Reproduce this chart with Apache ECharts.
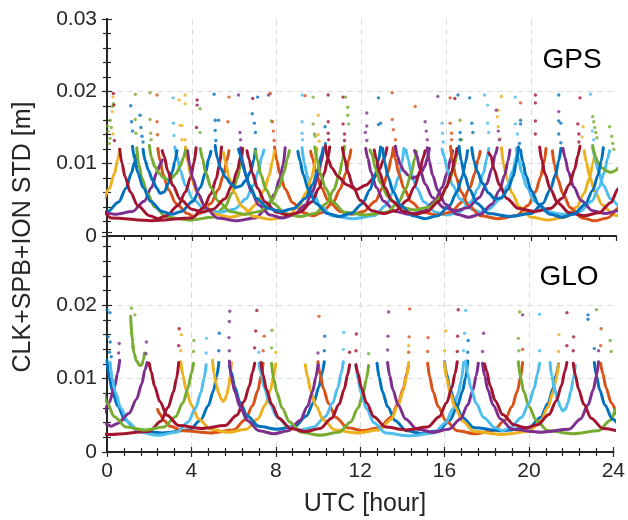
<!DOCTYPE html>
<html><head><meta charset="utf-8">
<script src="https://cdn.jsdelivr.net/npm/echarts@6/dist/echarts.min.js"></script>
<style>html,body{margin:0;padding:0;background:#fff}#c{width:628px;height:520px}</style>
</head><body><div id="c"></div>
<script>
// MATLAB default colour order: 0 blue,1 orange,2 yellow,3 purple,4 green,5 light blue,6 dark red
const COLORS = ['#0072BD','#D95319','#EDB120','#7E2F8E','#77AC30','#4DBEEE','#A2142F'];
const panelNames = ['GPS','GLO'];
const xTitle = 'UTC [hour]';
const yTitle = 'CLK+SPB+ION STD [m]';

// ---- GPS satellite arcs: [hour, STD m] ----
const gpsYellow = [
 [[-3.5,.012],[-3.4,.0105],[-3.25,.0086],[-3,.0065],[-2.65,.0046],[-2.1,.0032],[-1.45,.0028],[-0.8,.0032],[-0.25,.0046],[0.1,.0065],[0.35,.0086],[0.5,.0105],[0.6,.012]],
 [[3.7,.0123],[3.8,.0103],[3.95,.0084],[4.2,.0063],[4.55,.0044],[5.1,.003],[5.8,.0026],[6.5,.003],[7.05,.0044],[7.4,.0063],[7.65,.0084],[7.8,.0103],[7.9,.0118]],
 [[5.5,.0115],[5.6,.01],[5.75,.0081],[6,.006],[6.35,.0041],[6.9,.0027],[7.7,.0023],[8.5,.0027],[9.05,.0041],[9.4,.006],[9.65,.0081],[9.8,.01],[9.9,.0121]],
 [[18.6,.0122],[18.7,.0099],[18.85,.008],[19.1,.0059],[19.45,.004],[20,.0026],[20.8,.0022],[21.6,.0026],[22.15,.004],[22.5,.0059],[22.75,.008],[22.9,.0099],[23,.0115]],
 [[22.5,.0118],[22.6,.0102],[22.75,.0083],[23,.0062],[23.35,.0043],[23.9,.0029],[24.5,.0025],[25.1,.0029],[25.65,.0043],[26,.0062],[26.25,.0083],[26.4,.0102],[26.5,.012]]
];
const gpsRed = [
 [[0.6,.012],[0.7,.0101],[0.85,.0082],[1.1,.0061],[1.45,.0042],[2,.0028],[2.4,.0024],[2.8,.0028],[3.35,.0042],[3.7,.0061],[3.95,.0082],[4.1,.0101],[4.2,.0122]],
 [[-1.2,.012],[-1.1,.0098],[-0.95,.0079],[-0.7,.0058],[-0.35,.0039],[0.2,.0025],[2.1,.0021],[4,.0025],[4.55,.0039],[4.9,.0058],[5.15,.0079],[5.3,.0098],[5.4,.0123]],
 [[2.6,.0118],[2.7,.011],[2.85,.0091],[3.1,.007],[3.45,.0051],[4,.0037],[4.5,.0033],[5,.0037],[5.55,.0051],[5.9,.007],[6.15,.0091],[6.3,.011],[6.4,.0121]],
 [[6.6,.0118],[6.7,.0106],[6.85,.0087],[7.1,.0066],[7.45,.0047],[8,.0033],[8.55,.0029],[9.1,.0033],[9.65,.0047],[10,.0066],[10.25,.0087],[10.4,.0106],[10.5,.0123]],
 [[10.3,.0125],[10.4,.0108],[10.6,.0094],[10.9,.0082],[11.3,.0071],[11.75,.0064],[12.2,.007],[12.55,.0079],[12.85,.0092],[13.05,.0106],[13.2,.0122]],
 [[11.1,.0122],[11.2,.0108],[11.35,.0089],[11.6,.0068],[11.95,.0049],[12.5,.0035],[13.05,.0031],[13.6,.0035],[14.15,.0049],[14.5,.0068],[14.75,.0089],[14.9,.0108],[15,.0118]],
 [[12.6,.0119],[12.7,.0107],[12.85,.0088],[13.1,.0067],[13.45,.0048],[14,.0034],[14.55,.003],[15.1,.0034],[15.65,.0048],[16,.0067],[16.25,.0088],[16.4,.0107],[16.5,.0121]],
 [[18,.0115],[18.1,.0111],[18.25,.0092],[18.5,.0071],[18.85,.0052],[19.4,.0038],[20.15,.0034],[20.9,.0038],[21.45,.0052],[21.8,.0071],[22.05,.0092],[22.2,.0111],[22.3,.0124]],
 [[20.4,.0123],[20.5,.0105],[20.65,.0086],[20.9,.0065],[21.25,.0046],[21.8,.0032],[22.5,.0028],[23.2,.0032],[23.75,.0046],[24.1,.0065],[24.35,.0086],[24.5,.0105],[24.6,.012]]
];
const gpsBlue = [
 [[-2.5,.012],[-2.4,.0106],[-2.25,.0087],[-2,.0066],[-1.65,.0047],[-1.1,.0033],[-0.55,.0029],[0,.0033],[0.55,.0047],[0.9,.0066],[1.15,.0087],[1.3,.0102],[1.4,.0112]],
 [[1.2,.0124],[1.3,.0107],[1.45,.0088],[1.7,.0067],[2.05,.0048],[2.6,.0034],[3.05,.003],[3.5,.0034],[4.05,.0048],[4.4,.0067],[4.65,.0088],[4.8,.0107],[4.9,.0117]],
 [[1.7,.012],[1.8,.0104],[1.95,.0091],[2.15,.0077],[2.35,.0066],[2.5,.0059],[2.7,.0061],[2.9,.0073],[3.08,.0089],[3.2,.0103],[3.3,.0118]],
 [[5.1,.0125],[5.2,.0108],[5.35,.0094],[5.6,.0081],[5.85,.0072],[6.05,.0067],[6.3,.0069],[6.55,.0077],[6.78,.009],[6.92,.0105],[7,.012]],
 [[6.2,.012],[6.3,.0111],[6.45,.0092],[6.7,.0071],[7.05,.0052],[7.6,.0038],[8.2,.0034],[8.8,.0038],[9.35,.0052],[9.7,.0071],[9.95,.0092],[10.1,.0111],[10.2,.0122]],
 [[9,.0117],[9.1,.0104],[9.25,.0085],[9.5,.0064],[9.85,.0045],[10.4,.0031],[10.95,.0027],[11.5,.0031],[12.05,.0045],[12.4,.0064],[12.65,.0085],[12.8,.0104],[12.9,.0123]],
 [[13,.0121],[13.1,.0101],[13.25,.0082],[13.5,.0061],[13.85,.0042],[14.4,.0028],[15,.0024],[15.6,.0028],[16.15,.0042],[16.5,.0061],[16.75,.0082],[16.9,.0101],[17,.0118]],
 [[16.6,.0124],[16.7,.0104],[16.85,.0085],[17.1,.0064],[17.45,.0045],[18,.0031],[19,.0027],[20,.0031],[20.55,.0045],[20.9,.0064],[21.15,.0085],[21.3,.0104],[21.4,.0121]],
 [[17.2,.0122],[17.3,.0104],[17.45,.009],[17.7,.0073],[18,.0059],[18.3,.0051],[18.6,.0053],[18.9,.0064],[19.15,.0082],[19.3,.0101],[19.4,.0123]],
 [[19.5,.0119],[19.6,.0103],[19.75,.0084],[20,.0063],[20.35,.0044],[20.9,.003],[21.45,.0026],[22,.003],[22.55,.0044],[22.9,.0063],[23.15,.0084],[23.3,.0103],[23.4,.0122]]
];
const gpsGreen = [
 [[1.4,.0122],[1.5,.0099],[1.65,.008],[1.9,.0059],[2.25,.004],[2.8,.0026],[3.9,.0022],[5,.0026],[5.55,.004],[5.9,.0059],[6.15,.008],[6.3,.0099],[6.4,.012]],
 [[2,.0125],[2.1,.0108],[2.25,.0096],[2.45,.0087],[2.65,.0081],[2.85,.0078],[3.05,.008],[3.25,.0086],[3.45,.0096],[3.6,.0108],[3.7,.0119]],
 [[4.4,.0121],[4.5,.0107],[4.65,.0088],[4.9,.0067],[5.25,.0048],[5.8,.0034],[6.5,.003],[7.2,.0034],[7.75,.0048],[8.1,.0067],[8.35,.0088],[8.5,.0107],[8.6,.0118]],
 [[7,.0118],[7.1,.0104],[7.25,.0085],[7.5,.0064],[7.85,.0045],[8.4,.0031],[9.1,.0027],[9.8,.0031],[10.35,.0045],[10.7,.0064],[10.95,.0085],[11.1,.0104],[11.2,.0124]],
 [[9.8,.0123],[9.9,.0106],[10.05,.0087],[10.3,.0066],[10.65,.0047],[11.2,.0033],[12.2,.0029],[13.2,.0033],[13.75,.0047],[14.1,.0066],[14.35,.0087],[14.5,.0106],[14.6,.0117]],
 [[12.4,.0119],[12.5,.0113],[12.65,.0094],[12.9,.0073],[13.25,.0054],[13.8,.004],[14.5,.0036],[15.2,.004],[15.75,.0054],[16.1,.0073],[16.35,.0094],[16.5,.0113],[16.6,.0117]],
 [[22.9,.0125],[23,.0112],[23.15,.0102],[23.35,.0094],[23.55,.009],[23.75,.0088],[23.95,.009],[24.15,.0095],[24.35,.0103],[24.5,.0112],[24.6,.012]]
];
const gpsOrange = [
 [[2.4,.0121],[2.5,.0104],[2.65,.0085],[2.9,.0064],[3.25,.0045],[3.8,.0031],[4.08,.0027],[4.35,.0031],[4.9,.0045],[5.25,.0064],[5.5,.0085],[5.65,.0104],[5.75,.0118]],
 [[7.9,.0123],[8,.0105],[8.15,.0086],[8.4,.0065],[8.75,.0046],[9.3,.0032],[9.7,.0028],[10.1,.0032],[10.65,.0046],[11,.0065],[11.25,.0086],[11.4,.0105],[11.5,.0119]],
 [[9.6,.0117],[9.7,.0107],[9.85,.0088],[10.1,.0067],[10.45,.0048],[11,.0034],[11.55,.003],[12.1,.0034],[12.65,.0048],[13,.0067],[13.25,.0088],[13.4,.0107],[13.5,.0122]],
 [[13.5,.0121],[13.6,.0106],[13.75,.0087],[14,.0066],[14.35,.0047],[14.9,.0033],[15.55,.0029],[16.2,.0033],[16.75,.0047],[17.1,.0066],[17.35,.0087],[17.5,.0106],[17.6,.0117]],
 [[16.2,.0124],[16.3,.0101],[16.45,.0082],[16.7,.0061],[17.05,.0042],[17.6,.0028],[18.45,.0024],[19.3,.0028],[19.85,.0042],[20.2,.0061],[20.45,.0082],[20.6,.0101],[20.7,.0121]],
 [[21,.0118],[21.1,.0098],[21.25,.0079],[21.5,.0058],[21.85,.0039],[22.4,.0025],[23,.0021],[23.6,.0025],[24.15,.0039],[24.5,.0058],[24.75,.0079],[24.9,.0098],[25,.012]]
];
const gpsPurple = [
 [[-1.8,.012],[-1.7,.0107],[-1.55,.0088],[-1.3,.0067],[-0.95,.0048],[-0.4,.0034],[0.4,.003],[1.2,.0034],[1.75,.0048],[2.1,.0067],[2.35,.0088],[2.5,.0098],[2.6,.0105]],
 [[3.8,.0118],[3.9,.0098],[4.05,.0079],[4.3,.0058],[4.65,.0039],[5.2,.0025],[6.1,.0021],[7,.0025],[7.55,.0039],[7.9,.0058],[8.15,.0079],[8.3,.0098],[8.4,.0122]],
 [[6.3,.0122],[6.4,.0102],[6.55,.0083],[6.8,.0062],[7.15,.0043],[7.7,.0029],[8.25,.0025],[8.8,.0029],[9.35,.0043],[9.7,.0062],[9.95,.0083],[10.1,.0102],[10.2,.0119]],
 [[12.2,.0121],[12.3,.0107],[12.45,.0088],[12.7,.0067],[13.05,.0048],[13.6,.0034],[14.25,.003],[14.9,.0034],[15.45,.0048],[15.8,.0067],[16.05,.0088],[16.2,.0107],[16.3,.0118]],
 [[13.6,.0124],[13.7,.011],[13.82,.0099],[14,.009],[14.2,.0084],[14.4,.008],[14.6,.0082],[14.8,.0087],[14.98,.0096],[15.1,.0107],[15.2,.0121]],
 [[14.5,.0118],[14.6,.0112],[14.75,.0093],[15,.0072],[15.35,.0053],[15.9,.0039],[16.45,.0035],[17,.0039],[17.55,.0053],[17.9,.0072],[18.15,.0093],[18.3,.0112],[18.4,.0122]],
 [[15.1,.0122],[15.2,.0103],[15.35,.0084],[15.6,.0063],[15.95,.0044],[16.5,.003],[17.05,.0026],[17.6,.003],[18.15,.0044],[18.5,.0063],[18.75,.0084],[18.9,.0103],[19,.0119]],
 [[21.5,.0121],[21.6,.0108],[21.75,.0089],[22,.0068],[22.35,.0049],[22.9,.0035],[23.5,.0031],[24.1,.0035],[24.65,.0049],[25,.0068],[25.25,.0089],[25.4,.0108],[25.5,.012]]
];
const gpsLight = [
 [[3.2,.0123],[3.3,.011],[3.45,.0091],[3.7,.007],[4.05,.0051],[4.6,.0037],[5.3,.0033],[6,.0037],[6.55,.0051],[6.9,.007],[7.15,.0091],[7.3,.011],[7.4,.0119]],
 [[9.2,.0122],[9.3,.0101],[9.45,.0082],[9.7,.0061],[10.05,.0042],[10.6,.0028],[11.6,.0024],[12.6,.0028],[13.15,.0042],[13.5,.0061],[13.75,.0082],[13.9,.0101],[14,.0121]],
 [[14.1,.0119],[14.2,.0106],[14.35,.0087],[14.6,.0066],[14.95,.0047],[15.5,.0033],[16.05,.0029],[16.6,.0033],[17.15,.0047],[17.5,.0066],[17.75,.0087],[17.9,.0106],[18,.0121]],
 [[15.8,.012],[15.9,.011],[16.05,.0091],[16.3,.007],[16.65,.0051],[17.2,.0037],[17.6,.0033],[18,.0037],[18.55,.0051],[18.9,.007],[19.15,.0091],[19.3,.011],[19.4,.0123]],
 [[19.3,.0121],[19.4,.0107],[19.55,.0088],[19.8,.0067],[20.15,.0048],[20.7,.0034],[21.5,.003],[22.3,.0034],[22.85,.0048],[23.2,.0067],[23.45,.0088],[23.6,.0107],[23.7,.0118]],
 [[22.9,.0122],[23,.011],[23.15,.0091],[23.4,.007],[23.75,.0051],[24.3,.0037],[25,.0033],[25.7,.0037],[26.25,.0051],[26.6,.007],[26.85,.0091],[27,.011],[27.1,.012]]
];
// sparse high samples at arc ends: [hour, STD, colour index]
const gpsDots = [
 [0.3,.0197,6],[0.28,.0192,2],[0.3,.0183,4],[0.25,.0179,4],[0.33,.0181,6],[0.25,.0172,2],[0.15,.016,4],[0.2,.015,4],[0.28,.0141,2],[0.15,.0135,4],[0.1,.0128,4],[0.35,.0132,6],[0.02,.0152,4],[0.05,.0145,4],
 [1.12,.018,0],[1.16,.0158,0],[1.2,.0145,0],[1.56,.0167,0],[1.6,.015,0],[1.65,.0138,0],[1.7,.013,0],
 [1.34,.0196,4],[1.33,.0161,4],[1.36,.0142,4],
 [2.03,.0198,4],[2.03,.0161,4],[2.06,.0142,4],[2.08,.0133,4],
 [2.36,.0195,1],[2.36,.0158,1],[2.38,.014,1],
 [3.12,.0191,5],[3.13,.0156,5],[3.16,.0139,5],
 [3.4,.0188,2],[3.68,.0195,2],[3.68,.0183,2],[3.45,.0153,2],[3.53,.0153,2],[3.53,.0133,2],[3.68,.0133,2],
 [4.25,.0188,6],[4.25,.0181,6],[4.22,.015,6],
 [4.39,.0176,4],[4.39,.0143,4],
 [5.05,.0196,0],[5.1,.016,0],[5.26,.016,0],[5.1,.0146,0],[5.13,.0132,0],
 [5.75,.0192,1],[5.7,.0158,1],
 [6.2,.0195,3],[6.27,.0143,3],[6.3,.0133,3],
 [6.87,.019,6],[7.1,.0192,0],[6.85,.0169,0],[6.95,.0156,0],[7,.0143,0],
 [7.7,.0197,1],[7.62,.0195,3],[7.75,.0159,4],
 [7.8,.0158,1],[7.84,.0145,1],[7.88,.0132,1],
 [9.2,.0195,5],[9.2,.0158,5],[9.2,.0142,5],[9.22,.0133,5],[9.34,.0194,1],
 [9.72,.0192,4],[9.72,.0155,4],[9.78,.0141,4],[9.82,.0138,4],
 [9.96,.0167,2],[9.96,.014,2],[10,.0131,2],
 [10.43,.0195,6],[10.43,.0158,6],[10.43,.0142,6],[10.45,.0133,6],[10.28,.0151,0],[10.3,.0128,0],
 [11.13,.0192,6],[11.13,.0155,6],[11.2,.0141,6],[11.2,.0132,6],
 [11.25,.0192,4],[11.35,.0178,4],[11.35,.0167,4],[11.4,.0155,4],
 [12.25,.017,3],[12.25,.0152,3],[12.18,.0143,3],[12.25,.0132,3],
 [12.8,.0191,0],[12.9,.0156,0],[12.8,.0154,0],
 [13.45,.0198,1],[13.45,.0161,1],[13.5,.0147,1],[13.6,.0133,1],
 [14.53,.0179,1],
 [15,.0158,3],[15.05,.0145,3],[15.1,.0133,3],[15.6,.0193,3],
 [15.8,.0156,5],[15.82,.0142,5],[15.85,.013,5],
 [16.4,.019,6],[16.18,.0191,1],[16.18,.0156,1],[16.25,.0142,1],[16.25,.0133,1],
 [16.65,.016,4],[16.72,.0133,4],[16.55,.0195,0],[16.65,.0143,0],[16.65,.0133,0],
 [17.1,.0191,0],[17.2,.0156,0],[17.25,.0143,0],
 [17.8,.0195,5],[17.95,.0181,5],[17.95,.0156,5],[18,.0143,5],
 [18.6,.0193,2],[18.45,.0174,2],[18.4,.0165,2],[18.45,.0151,2],[18.55,.0134,2],
 [18.35,.0174,3],[18.45,.0145,3],[18.5,.0133,3],
 [19.25,.0192,5],[19.25,.0155,5],[19.35,.0141,5],
 [19.5,.016,0],[19.5,.0155,0],[19.45,.0128,0],[19.5,.0184,1],
 [20.2,.0195,6],[20.2,.0184,6],[20.2,.0159,6],[20.2,.0141,6],
 [21.3,.0195,0],[21.3,.0159,0],[21.4,.0156,0],[21.3,.0141,0],[21.4,.0129,0],[21.3,.0172,3],
 [22.3,.0191,6],[22.2,.0155,6],[22.25,.0141,6],[22.25,.013,6],
 [22.45,.0151,2],[22.4,.0137,2],
 [22.8,.0196,5],[22.88,.0145,5],[22.95,.0133,5],
 [22.9,.0165,4],[22.95,.0158,4],[23,.015,4],[23.05,.0143,4],[23.1,.0136,4],[23.7,.0151,4],[23.8,.0138,4],[23.85,.0128,4],[23.9,.012,4]
];

// ---- GLONASS satellite arcs ----
const gloBlue = [
 [[0,.0125],[0.1,.0103],[0.25,.0084],[0.5,.0063],[0.85,.0044],[1.4,.003],[2.65,.0026],[3.9,.003],[4.45,.0044],[4.8,.0063],[5.05,.0084],[5.2,.0103],[5.3,.0122]],
 [[5.8,.0118],[5.9,.0108],[6.05,.0089],[6.3,.0068],[6.65,.0049],[7.2,.0035],[8.05,.0031],[8.9,.0035],[9.45,.0049],[9.8,.0068],[10.05,.0089],[10.2,.0108],[10.3,.0123]],
 [[12.8,.0121],[12.9,.0102],[13.05,.0083],[13.3,.0062],[13.65,.0043],[14.2,.0029],[14.95,.0025],[15.7,.0029],[16.25,.0043],[16.6,.0062],[16.85,.0083],[17,.0102],[17.1,.0124]],
 [[16,.0123],[16.1,.0106],[16.25,.0087],[16.5,.0066],[16.85,.0047],[17.4,.0033],[18.7,.0029],[20,.0033],[20.55,.0047],[20.9,.0066],[21.15,.0087],[21.3,.0106],[21.4,.012]],
 [[23.1,.0122],[23.2,.0104],[23.35,.0085],[23.6,.0064],[23.95,.0045],[24.5,.0031],[25,.0027],[25.5,.0031],[26.05,.0045],[26.4,.0064],[26.65,.0085],[26.8,.0104],[26.9,.012]]
];
const gloLight = [
 [[0.15,.0122],[0.25,.01],[0.4,.0081],[0.65,.006],[1,.0041],[1.55,.0027],[2.42,.0023],[3.3,.0027],[3.85,.0041],[4.2,.006],[4.45,.0081],[4.6,.01],[4.7,.0119]],
 [[7.2,.0121],[7.3,.0107],[7.45,.0088],[7.7,.0067],[8.05,.0048],[8.6,.0034],[9.2,.003],[9.8,.0034],[10.35,.0048],[10.7,.0067],[10.95,.0088],[11.1,.0107],[11.2,.0123]],
 [[11.8,.0119],[11.9,.0099],[12.05,.008],[12.3,.0059],[12.65,.004],[13.2,.0026],[14.35,.0022],[15.5,.0026],[16.05,.004],[16.4,.0059],[16.65,.008],[16.8,.0099],[16.9,.0122]],
 [[17,.0124],[17.1,.0106],[17.25,.0087],[17.5,.0066],[17.85,.0047],[18.4,.0033],[18.75,.0029],[19.1,.0033],[19.65,.0047],[20,.0066],[20.25,.0087],[20.4,.0106],[20.5,.0121]],
 [[21,.0122],[21.08,.0104],[21.2,.0088],[21.35,.0072],[21.5,.0061],[21.6,.0056],[21.72,.0058],[21.85,.0067],[21.98,.0082],[22.1,.0099],[22.2,.0118]]
];
const gloGreen = [
 [[1.12,.0185],[1.2,.0152],[1.28,.0135],[1.4,.0124],[1.55,.0118],[1.65,.0119],[1.72,.0125],[1.78,.0135]],
 [[-0.5,.012],[-0.4,.0107],[-0.25,.0088],[0,.0067],[0.35,.0048],[0.9,.0034],[1.8,.003],[2.7,.0034],[3.25,.0048],[3.6,.0067],[3.85,.0088],[4,.0107],[4.1,.0121]],
 [[7.8,.0121],[7.9,.01],[8.05,.0081],[8.3,.006],[8.65,.0041],[9.2,.0027],[10.1,.0023],[11,.0027],[11.55,.0041],[11.9,.006],[12.15,.0081],[12.3,.01],[12.4,.0118]],
 [[19.5,.0123],[19.6,.0102],[19.75,.0083],[20,.0062],[20.35,.0043],[20.9,.0029],[22.1,.0025],[23.3,.0029],[23.85,.0043],[24.2,.0062],[24.45,.0083],[24.6,.0102],[24.7,.0119]]
];
const gloPurple = [
 [[-2,.012],[-1.9,.0107],[-1.75,.0088],[-1.5,.0067],[-1.15,.0048],[-0.7,.0033],[-0.25,.0048],[0.1,.0067],[0.35,.0088],[0.5,.0107],[0.6,.0125]],
 [[-1.5,.012],[-1.4,.0112],[-1.25,.0093],[-1,.0072],[-0.65,.0053],[-0.1,.0039],[0.2,.0035],[0.5,.0039],[1.05,.0053],[1.4,.0072],[1.65,.0093],[1.8,.0112],[1.9,.0122]],
 [[5.8,.0124],[5.9,.0102],[6.05,.0083],[6.3,.0062],[6.65,.0043],[7.2,.0029],[7.9,.0025],[8.6,.0029],[9.15,.0043],[9.5,.0062],[9.75,.0083],[9.9,.0102],[10,.0119]],
 [[13.3,.0122],[13.4,.0104],[13.55,.0085],[13.8,.0064],[14.15,.0045],[14.7,.0031],[15.45,.0027],[16.2,.0031],[16.75,.0045],[17.1,.0064],[17.35,.0085],[17.5,.0104],[17.6,.0121]],
 [[17.8,.0121],[17.9,.0104],[18.05,.0085],[18.3,.0064],[18.65,.0045],[19.2,.0031],[20.55,.0027],[21.9,.0031],[22.45,.0045],[22.8,.0064],[23.05,.0085],[23.2,.0104],[23.3,.0123]]
];
const gloYellow = [
 [[3.5,.0123],[3.6,.0104],[3.75,.0085],[4,.0064],[4.35,.0045],[4.9,.0031],[5.75,.0027],[6.6,.0031],[7.15,.0045],[7.5,.0064],[7.75,.0085],[7.9,.0104],[8,.012]],
 [[5,.0125],[5.08,.0106],[5.18,.0092],[5.3,.008],[5.42,.0072],[5.5,.0069],[5.58,.0071],[5.68,.0078],[5.77,.009],[5.85,.0105],[5.9,.0122]],
 [[9.4,.0119],[9.5,.0103],[9.65,.0084],[9.9,.0063],[10.25,.0044],[10.8,.003],[11.85,.0026],[12.9,.003],[13.45,.0044],[13.8,.0063],[14.05,.0084],[14.2,.0103],[14.3,.0122]],
 [[16,.0122],[16.1,.0101],[16.25,.0082],[16.5,.0061],[16.85,.0042],[17.4,.0028],[18.7,.0024],[20,.0028],[20.55,.0042],[20.9,.0061],[21.15,.0082],[21.3,.0101],[21.4,.0119]]
];
const gloOrange = [
 [[2.4,.0058],[2.5,.0052],[2.7,.0043],[3,.0035],[3.6,.0029],[4.9,.0026],[6,.003],[6.55,.0044],[6.9,.0063],[7.15,.0084],[7.3,.0103],[7.4,.0121]],
 [[10,.0123],[10.1,.0106],[10.25,.0087],[10.5,.0066],[10.85,.0047],[11.4,.0033],[12.15,.0029],[12.9,.0033],[13.45,.0047],[13.8,.0066],[14.05,.0087],[14.2,.0106],[14.3,.012]],
 [[15.2,.0121],[15.3,.0102],[15.45,.0083],[15.7,.0062],[16.05,.0043],[16.6,.0029],[17.45,.0025],[18.3,.0029],[18.85,.0043],[19.2,.0062],[19.45,.0083],[19.6,.0102],[19.7,.0122]],
 [[23.4,.0121],[23.5,.0107],[23.65,.0088],[23.9,.0067],[24.25,.0048],[24.8,.0034],[25.5,.003],[26.2,.0034],[26.75,.0048],[27.1,.0067],[27.35,.0088],[27.5,.0107],[27.6,.012]]
];
const gloRed = [
 [[-3,.012],[-2.9,.0101],[-2.75,.0082],[-2.5,.0061],[-2.15,.0042],[-1.6,.0028],[0.2,.0024],[2,.0028],[2.55,.0042],[2.9,.0061],[3.15,.0082],[3.3,.0101],[3.4,.0122]],
 [[2,.0121],[2.1,.0109],[2.25,.009],[2.5,.0069],[2.85,.005],[3.4,.0036],[4.5,.0032],[5.6,.0036],[6.15,.005],[6.5,.0069],[6.75,.009],[6.9,.0109],[7,.0121]],
 [[7.3,.0122],[7.4,.0105],[7.55,.0086],[7.8,.0065],[8.15,.0046],[8.7,.0032],[9.4,.0028],[10.1,.0032],[10.65,.0046],[11,.0065],[11.25,.0086],[11.4,.0105],[11.5,.0119]],
 [[11.8,.0119],[11.9,.0107],[12.05,.0088],[12.3,.0067],[12.65,.0048],[13.2,.0034],[14.2,.003],[15.2,.0034],[15.75,.0048],[16.1,.0067],[16.35,.0088],[16.5,.0107],[16.6,.0123]],
 [[17.9,.012],[18,.011],[18.15,.0091],[18.4,.007],[18.75,.0051],[19.3,.0037],[19.85,.0033],[20.4,.0037],[20.95,.0051],[21.3,.007],[21.55,.0091],[21.7,.011],[21.8,.0122]],
 [[22.1,.0121],[22.2,.0105],[22.35,.0086],[22.6,.0065],[22.95,.0046],[23.5,.0032],[24.5,.0028],[25.5,.0032],[26.05,.0046],[26.4,.0065],[26.65,.0086],[26.8,.0105],[26.9,.012]]
];
const gloDots = [
 [0,.0194,0],[0.14,.019,0],[0.05,.0157,0],[0.15,.015,0],[0.12,.0136,0],[0.2,.013,0],
 [1.16,.0196,4],[1.32,.0187,4],[1.16,.0162,4],[1.22,.0153,4],[1.22,.0143,4],
 [0.55,.0135,3],[0.58,.0148,3],[1.85,.0134,3],[1.87,.015,3],
 [3.4,.0145,6],[3.42,.0168,6],[3.5,.0138,2],[3.52,.016,2],[4.1,.0137,4],[4.12,.0152,4],
 [5.3,.0138,0],[5.32,.0162,0],[4.7,.0135,5],[4.72,.0155,5],
 [5.8,.0138,3],[5.78,.0156,3],[5.8,.0178,3],[5.82,.0192,3],
 [7,.0142,6],[7.05,.0165,6],[7.1,.0193,6],[7.4,.0138,1],[7.45,.0158,1],
 [8,.0136,2],[7.2,.0136,5],[7.8,.0142,4],[7.82,.0166,4],
 [10.3,.0138,0],[10.32,.0158,0],[10,.0135,3],[10.05,.0185,1],
 [11.2,.014,5],[11.22,.0163,5],[11.5,.0136,6],[11.8,.0138,6],[11.82,.0161,6],[12.4,.0134,4],
 [13.3,.0139,3],[13.32,.0158,3],[13.35,.0191,3],[14.3,.0136,1],[14.32,.0157,1],[14.35,.0195,1],[14.3,.0145,2],
 [15.2,.0137,1],[15.22,.0156,1],[16,.0138,2],[16.05,.0165,2],[16.6,.0137,6],[16.62,.0158,6],[16.65,.0194,6],
 [16.9,.0138,5],[16.95,.0162,5],[17,.0193,5],[17.1,.0136,0],[17.12,.0152,0],
 [17.8,.0137,3],[17.85,.0162,3],[19.56,.0191,4],[19.5,.0155,4],[19.52,.0138,4],[19.7,.0187,3],[19.7,.014,1],
 [20.5,.0188,5],[20.5,.0138,5],[21.4,.0137,2],[21.42,.016,2],[21.8,.019,6],[21.8,.0145,6],
 [22.1,.0138,6],[22.12,.0157,6],[22.8,.0187,0],[22.8,.0181,0],[23.1,.0141,0],
 [23.2,.0194,4],[23.3,.0138,3],[23.4,.0145,1],[23.42,.0168,1],[23.85,.0152,4],[23.9,.0137,4]
];

const FONT = "'Liberation Sans', Arial, Helvetica, sans-serif";
const INK = '#262626';
const panels = [
  {arcs: [[gpsBlue,0],[gpsOrange,1],[gpsYellow,2],[gpsPurple,3],[gpsGreen,4],[gpsLight,5],[gpsRed,6]], dots: gpsDots},
  {arcs: [[gloBlue,0],[gloOrange,1],[gloYellow,2],[gloPurple,3],[gloGreen,4],[gloLight,5],[gloRed,6]], dots: gloDots}
];

const series = [];
panels.forEach((p, pi) => {
  const xi = pi * 2, yi = pi * 2;
  const maxN = Math.max(...p.arcs.map(a => a[0].length));
  for (let k = 0; k < maxN; k++) {
    p.arcs.forEach(([arr, ci]) => {
      if (!arr[k]) return;
      series.push({
        type: 'line', xAxisIndex: xi, yAxisIndex: yi, data: arr[k],
        smooth: 0.3, smoothMonotone: 'x', symbol: 'none', silent: true,
        lineStyle: {color: COLORS[ci], width: 3, cap: 'round', join: 'round'},
        clip: true, z: 2
      });
    });
  }
  series.push({
    type: 'scatter', xAxisIndex: xi, yAxisIndex: yi, silent: true,
    data: p.dots.map(d => [d[0], d[1], d[2]]), symbol: 'circle', symbolSize: 3.4,
    itemStyle: {color: (q) => COLORS[q.data[2]]}, clip: true, z: 3
  });
});

const split = {show: true, lineStyle: {color: '#dcdcdc', width: 1, type: [6, 4]}, showMinLine: false, showMaxLine: false};
const tick = {show: true, inside: true, length: 5, lineStyle: {color: INK, width: 1.2}};
const minor = {show: true, splitNumber: 5, length: 4, lineStyle: {color: INK, width: 1.2}};
const line = {show: true, lineStyle: {color: INK, width: 2}};
const lbl = {fontFamily: FONT, fontSize: 21, color: INK};

function xAx(grid, pos, showLabel, showLine, showSplit) {
  return {type: 'value', gridIndex: grid, position: pos, min: 0, max: 24, interval: 4,
    axisLine: showLine ? line : {show: false}, axisTick: showLine ? tick : {show: false},
    minorTick: showLine ? minor : {show: false},
    axisLabel: showLabel ? Object.assign({margin: 9}, lbl) : {show: false},
    splitLine: showSplit ? split : {show: false}};
}
function yAx(grid, pos, showLabel, hideMax) {
  return {type: 'value', gridIndex: grid, position: pos, min: 0, max: 0.03, interval: 0.01,
    axisLine: line, axisTick: tick, minorTick: minor,
    axisLabel: showLabel ? Object.assign({margin: 10, formatter: v => {
      if (hideMax && v > 0.025) return '';
      return v < 1e-9 ? '0' : v.toFixed(2);
    }}, lbl) : {show: false},
    splitLine: pos === 'left' ? split : {show: false}};
}

const option = {
  animation: false,
  backgroundColor: '#ffffff',
  grid: [
    {left: 107, top: 19, width: 509, height: 217},
    {left: 107, top: 232, width: 509, height: 220}
  ],
  xAxis: [xAx(0, 'bottom', false, false, true), xAx(0, 'top', false, true, false),
          xAx(1, 'bottom', true, true, true), xAx(1, 'top', false, true, false)],
  yAxis: [yAx(0, 'left', true, false), yAx(0, 'right', false, false),
          yAx(1, 'left', true, true), yAx(1, 'right', false, false)],
  series: series,
  graphic: [
    {type: 'text', x: 572, y: 60, style: {text: panelNames[0], fontFamily: FONT, fontSize: 28, fill: '#000', align: 'center', verticalAlign: 'middle'}},
    {type: 'text', x: 569, y: 277, style: {text: panelNames[1], fontFamily: FONT, fontSize: 28, fill: '#000', align: 'center', verticalAlign: 'middle'}},
    {type: 'text', x: 365, y: 504, style: {text: xTitle, fontFamily: FONT, fontSize: 25, fill: INK, align: 'center', verticalAlign: 'middle'}},
    {type: 'text', x: 23, y: 237, rotation: Math.PI / 2, style: {text: yTitle, fontFamily: FONT, fontSize: 25, fill: INK, align: 'center', verticalAlign: 'middle'}}
  ]
};
const chart = echarts.init(document.getElementById('c'), null, {renderer: 'canvas'});
chart.setOption(option);
</script></body></html>
